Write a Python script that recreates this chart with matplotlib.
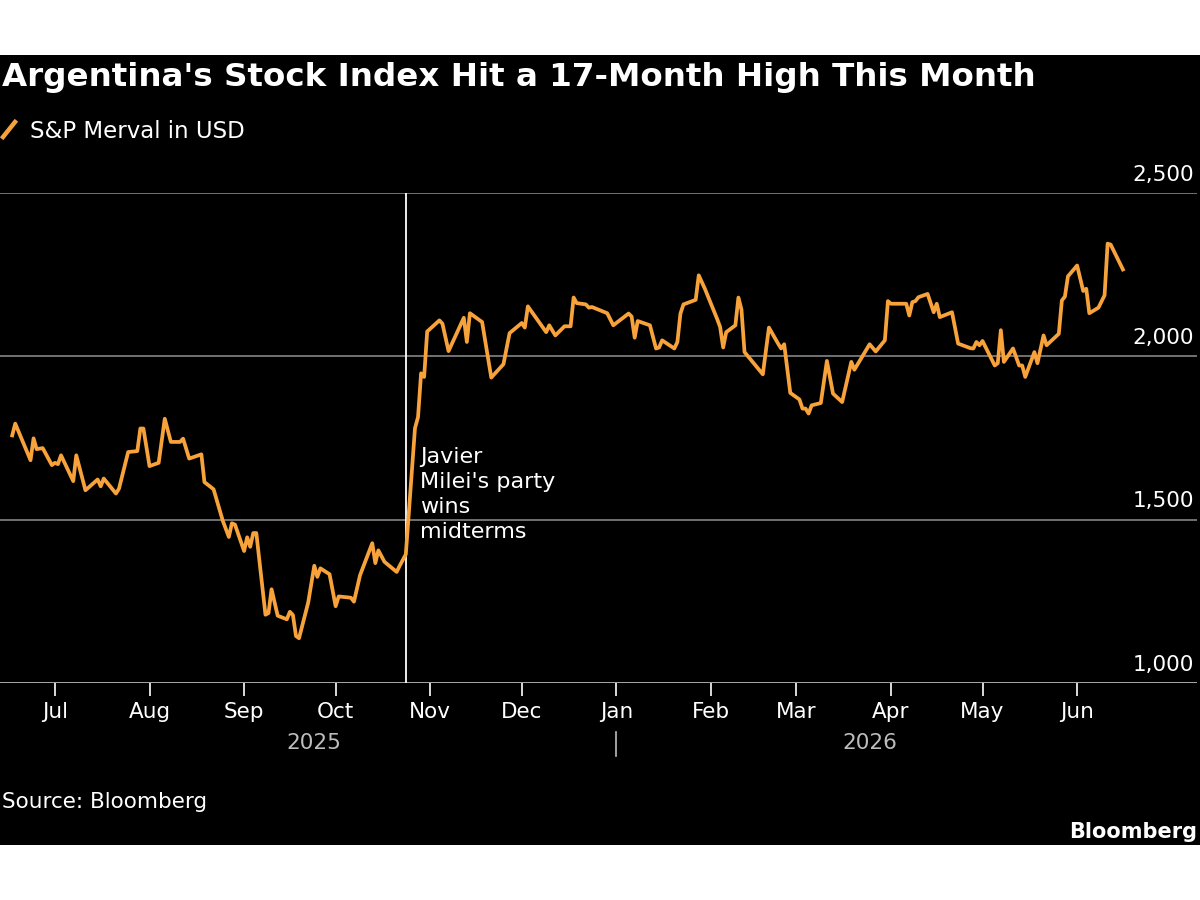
import numpy as np
import pandas as pd
import matplotlib
matplotlib.use('Agg')
import matplotlib.pyplot as plt
import matplotlib.dates as mdates
import matplotlib.transforms as mtransforms
from matplotlib.patches import Rectangle
from matplotlib.lines import Line2D

# Dati (S&P Merval in USD)
dates = [
    '2025-06-17', '2025-06-18', '2025-06-23', '2025-06-24', '2025-06-25', '2025-06-27',
    '2025-06-30', '2025-07-01', '2025-07-02', '2025-07-03', '2025-07-07', '2025-07-08',
    '2025-07-11', '2025-07-15', '2025-07-16', '2025-07-17', '2025-07-21', '2025-07-22',
    '2025-07-25', '2025-07-28', '2025-07-29', '2025-07-30', '2025-08-01', '2025-08-04',
    '2025-08-06', '2025-08-08', '2025-08-11', '2025-08-12', '2025-08-14', '2025-08-18',
    '2025-08-19', '2025-08-22', '2025-08-25', '2025-08-27', '2025-08-28', '2025-08-29',
    '2025-09-01', '2025-09-02', '2025-09-03', '2025-09-04', '2025-09-05', '2025-09-08',
    '2025-09-09', '2025-09-10', '2025-09-12', '2025-09-15', '2025-09-16', '2025-09-17',
    '2025-09-18', '2025-09-19', '2025-09-22', '2025-09-24', '2025-09-25', '2025-09-26',
    '2025-09-29', '2025-10-01', '2025-10-02', '2025-10-06', '2025-10-07', '2025-10-09',
    '2025-10-13', '2025-10-14', '2025-10-15', '2025-10-17', '2025-10-21', '2025-10-22',
    '2025-10-24', '2025-10-27', '2025-10-28', '2025-10-29', '2025-10-30', '2025-10-31',
    '2025-11-04', '2025-11-05', '2025-11-07', '2025-11-12', '2025-11-13', '2025-11-14',
    '2025-11-18', '2025-11-21', '2025-11-25', '2025-11-27', '2025-12-01', '2025-12-02',
    '2025-12-03', '2025-12-09', '2025-12-10', '2025-12-12', '2025-12-15', '2025-12-17',
    '2025-12-18', '2025-12-19', '2025-12-22', '2025-12-23', '2025-12-24', '2025-12-29',
    '2025-12-31', '2026-01-05', '2026-01-06', '2026-01-07', '2026-01-08', '2026-01-12',
    '2026-01-14', '2026-01-15', '2026-01-16', '2026-01-20', '2026-01-21', '2026-01-22',
    '2026-01-23', '2026-01-27', '2026-01-28', '2026-01-30', '2026-02-03', '2026-02-04',
    '2026-02-05', '2026-02-06', '2026-02-09', '2026-02-10', '2026-02-11', '2026-02-12',
    '2026-02-18', '2026-02-20', '2026-02-23', '2026-02-24', '2026-02-25', '2026-02-27',
    '2026-03-02', '2026-03-03', '2026-03-04', '2026-03-05', '2026-03-06', '2026-03-09',
    '2026-03-11', '2026-03-13', '2026-03-16', '2026-03-19', '2026-03-20', '2026-03-25',
    '2026-03-27', '2026-03-30', '2026-03-31', '2026-04-01', '2026-04-06', '2026-04-07',
    '2026-04-08', '2026-04-09', '2026-04-10', '2026-04-13', '2026-04-15', '2026-04-16',
    '2026-04-17', '2026-04-21', '2026-04-23', '2026-04-27', '2026-04-28', '2026-04-29',
    '2026-04-30', '2026-05-01', '2026-05-05', '2026-05-06', '2026-05-07', '2026-05-08',
    '2026-05-11', '2026-05-13', '2026-05-14', '2026-05-15', '2026-05-18', '2026-05-19',
    '2026-05-21', '2026-05-22', '2026-05-26', '2026-05-27', '2026-05-28', '2026-05-29',
    '2026-06-01', '2026-06-03', '2026-06-04', '2026-06-05', '2026-06-08', '2026-06-10',
    '2026-06-11', '2026-06-12', '2026-06-16',
]
values = [
    1758, 1794, 1682, 1749, 1716, 1719,
    1667, 1674, 1670, 1697, 1618, 1697,
    1590, 1623, 1602, 1626, 1580, 1595,
    1707, 1710, 1779, 1779, 1664, 1674,
    1809, 1738, 1738, 1748, 1687, 1700,
    1615, 1593, 1497, 1447, 1489, 1485,
    1404, 1446, 1417, 1459, 1459, 1209,
    1214, 1287, 1206, 1195, 1218, 1208,
    1144, 1137, 1246, 1359, 1325, 1351,
    1333, 1235, 1265, 1261, 1249, 1330,
    1428, 1367, 1406, 1371, 1340, 1359,
    1394, 1780, 1814, 1948, 1937, 2076,
    2110, 2100, 2016, 2118, 2044, 2132,
    2105, 1935, 1976, 2071, 2102, 2088,
    2153, 2074, 2095, 2064, 2092, 2092,
    2180, 2163, 2159, 2149, 2151, 2132,
    2095, 2131, 2122, 2057, 2108, 2095,
    2024, 2027, 2049, 2024, 2044, 2131,
    2159, 2173, 2248, 2207, 2115, 2090,
    2027, 2074, 2095, 2180, 2143, 2013,
    1945, 2088, 2039, 2024, 2037, 1888,
    1868, 1840, 1840, 1825, 1850, 1857,
    1986, 1886, 1860, 1983, 1959, 2037,
    2015, 2049, 2169, 2161, 2161, 2125,
    2166, 2169, 2181, 2191, 2135, 2161,
    2120, 2135, 2039, 2025, 2024, 2044,
    2034, 2047, 1972, 1979, 2080, 1983,
    2024, 1972, 1972, 1937, 2013, 1979,
    2064, 2034, 2069, 2171, 2183, 2245,
    2278, 2200, 2207, 2132, 2149, 2187,
    2345, 2342, 2266,
]

y_ticks = [1000, 1500, 2000, 2500]
election_date = '2025-10-24'
note_text = "Javier\nMilei's party\nwins\nmidterms"

ORANGE = '#F7A23A'
GRID = '#7a7a7a'

plt.rcParams['font.family'] = ['DejaVu Sans']

x = pd.to_datetime(dates)

fig = plt.figure(figsize=(12, 9), dpi=100, facecolor='white')
# pannello nero dietro a tutto
fig.patches.append(Rectangle((0, 55 / 900), 1, 790 / 900, transform=fig.transFigure,
                             facecolor='black', edgecolor='none', zorder=-10))

ax = fig.add_axes([0, 1 - 683 / 900, 1197 / 1200, 490 / 900])
ax.set_facecolor('none')
ax.plot(x, values, color=ORANGE, lw=2.7, solid_joinstyle='round', zorder=3)

ax.set_xlim(pd.Timestamp('2025-06-13'), pd.Timestamp('2026-07-10 07:00'))
ax.set_ylim(y_ticks[0], y_ticks[-1])

for s in ax.spines.values():
    s.set_visible(False)

# griglia orizzontale e etichette a destra sopra le linee
for v in y_ticks:
    ax.axhline(v, color=GRID if v != y_ticks[0] else '#b5b5b5', lw=1.3, zorder=1)
    ax.annotate(f'{v:,}', xy=(1.0, v), xycoords=('axes fraction', 'data'),
                xytext=(-2, 6), textcoords='offset points', ha='right', va='bottom',
                color='white', fontsize=15.5)
ax.set_yticks([])

# tick mensili (solo fino a giugno 2026)
month_starts = pd.date_range('2025-07-01', '2026-06-01', freq='MS')
ax.set_xticks(month_starts)
ax.set_xticklabels([d.strftime('%b') for d in month_starts])
ax.tick_params(axis='x', colors='white', length=9, width=1.2, pad=5, labelsize=15.5)

# linea verticale delle elezioni
ed = pd.Timestamp(election_date)
ax.axvline(ed, color='white', lw=1.3, zorder=2)
ax.annotate(note_text, xy=(ed, 1722), xytext=(10, 0), textcoords='offset points',
            ha='left', va='top', color='white', fontsize=16, linespacing=1.3)

# anni sotto i mesi
jan = pd.Timestamp('2026-01-01')
mid25 = x[0] + (jan - x[0]) / 2
mid26 = jan + (x[-1] - jan) / 2
for d, lab in [(mid25, '2025'), (mid26, '2026')]:
    ax.annotate(lab, xy=(d, 0), xycoords=('data', 'axes fraction'), xytext=(0, -43),
                textcoords='offset points', ha='center', va='center', color='#bdbdbd',
                fontsize=15.5)
sep = Line2D([mdates.date2num(jan)] * 2, [-0.1, -0.148], color='#bdbdbd', lw=1.2,
             transform=mtransforms.blended_transform_factory(ax.transData, ax.transAxes),
             clip_on=False)
ax.add_line(sep)

# titolo, legenda, fonte
title = fig.text(2 / 1200, 1 - 86 / 900, "Argentina's Stock Index Hit a 17-Month High This Month",
                 color='white', fontsize=23, fontweight='bold', ha='left', va='baseline')
fig.canvas.draw()
w = title.get_window_extent().width
title.set_fontsize(23 * 1033 / w)

fig.add_artist(Line2D([3 / 1200, 15 / 1200], [1 - 137 / 900, 1 - 122 / 900], color=ORANGE,
                      lw=3.2, transform=fig.transFigure))
fig.text(30 / 1200, 1 - 138 / 900, 'S&P Merval in USD', color='white', fontsize=16.5,
         ha='left', va='baseline')
fig.text(2 / 1200, 1 - 808 / 900, 'Source: Bloomberg', color='white', fontsize=15.5,
         ha='left', va='baseline')
fig.text(1197 / 1200, 1 - 838 / 900, 'Bloomberg', color='white', fontsize=15,
         fontweight='bold', ha='right', va='baseline')

fig.savefig('out.png', dpi=100, facecolor=fig.get_facecolor())
